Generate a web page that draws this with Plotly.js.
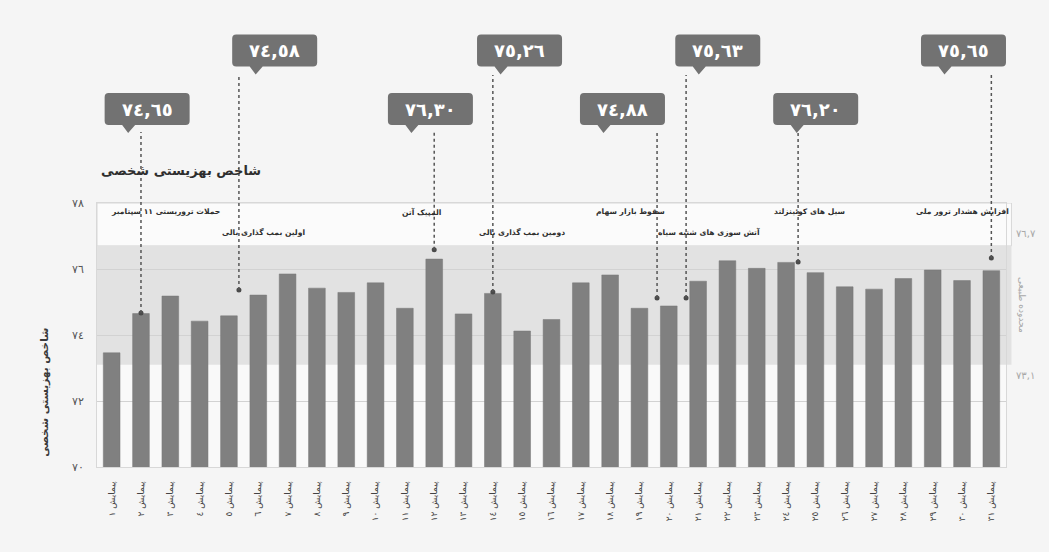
<!DOCTYPE html>
<html>
<head>
<meta charset="utf-8">
<script src="https://cdn.plot.ly/plotly-3.0.1.min.js"></script>
<style>
  html, body { margin: 0; padding: 0; background: #f5f5f5; }
  #chart { width: 1049px; height: 552px; }
</style>
</head>
<body>
<div id="chart"></div>
<script>
// ---------- data ----------
const surveyNumbers = [1,2,3,4,5,6,7,8,9,10,11,12,13,14,15,16,17,18,19,20,21,22,23,24,25,26,27,28,29,30,31];
const surveyLabels = [
  "پیمایش ١","پیمایش ٢","پیمایش ٣","پیمایش ٤","پیمایش ٥","پیمایش ٦","پیمایش ٧","پیمایش ٨",
  "پیمایش ٩","پیمایش ١٠","پیمایش ١١","پیمایش ١٢","پیمایش ١٣","پیمایش ١٤","پیمایش ١٥","پیمایش ١٦",
  "پیمایش ١٧","پیمایش ١٨","پیمایش ١٩","پیمایش ٢٠","پیمایش ٢١","پیمایش ٢٢","پیمایش ٢٣","پیمایش ٢٤",
  "پیمایش ٢٥","پیمایش ٢٦","پیمایش ٢٧","پیمایش ٢٨","پیمایش ٢٩","پیمایش ٣٠","پیمایش ٣١"
];
const indexValues = [73.46, 74.65, 75.18, 74.42, 74.58, 75.21, 75.85, 75.42, 75.29, 75.58,
                     74.81, 76.30, 74.64, 75.26, 74.12, 74.47, 75.58, 75.82, 74.81, 74.88,
                     75.63, 76.25, 76.02, 76.20, 75.89, 75.46, 75.39, 75.71, 75.97, 75.65, 75.95];
const yTickValues = [70, 72, 74, 76, 78];
const yTickLabels = ["٧٠", "٧٢", "٧٤", "٧٦", "٧٨"];
const normalRangeLow = 73.1;
const normalRangeHigh = 76.7;
const normalRangeLowLabel = "٧٣,١";
const normalRangeHighLabel = "٧٦,٧";
const normalRangeTitle = "محدوده طبیعی";
const calloutBars = [2, 5, 12, 14, 20, 21, 24, 31];
const calloutLabels = ["٧٤,٦٥", "٧٤,٥٨", "٧٦,٣٠", "٧٥,٢٦", "٧٤,٨٨", "٧٥,٦٣", "٧٦,٢٠", "٧٥,٦٥"];
const eventLabelsRow1 = ["حملات تروریستی ١١ سپتامبر", "المپیک آتن", "سقوط بازار سهام", "سیل های کوئینزلند", "افزایش هشدار ترور ملی"];
const eventLabelsRow2 = ["اولین بمب گذاری بالی", "دومین بمب گذاری بالی", "آتش سوزی های شنبه سیاه"];
const chartTitle = "شاخص بهزیستی شخصی";
const yAxisTitle = "شاخص بهزیستی شخصی";

// ---------- layout / style (positions) ----------
const FONT = "DejaVu Sans, Noto Sans, sans-serif";
const calloutStyle = {
  lineOffset: [0, 0.34, 0, 0, -0.4, -0.41, 0.41, 0],
  tipY:       [74.67, 75.36, 76.58, 75.30, 75.12, 75.12, 76.21, 76.33],
  boxX:       [2.21, 6.56, 11.87, 14.91, 18.42, 21.67, 25.01, 30.05],
  row:        [1, 0, 1, 0, 1, 0, 1, 0]
};
const rowBoxY = [1.578, 1.356];     // paper y of box centres (row 0 top, row 1 lower)
const rowLineTop = [1.485, 1.269];  // paper y where dotted line starts
const event1X = [0.1376, 0.3805, 0.6267, 0.8256, 1.0058];
const event2X = [0.2310, 0.5168, 0.7311];
const YMIN = 70, YMAX = 78;

const traces = [
  {
    type: "bar",
    x: surveyNumbers,
    y: indexValues,
    marker: { color: "#808080", line: { color: "#767676", width: 0.5 } },
    width: 0.57,
    hoverinfo: "skip"
  },
  {
    type: "scatter",
    mode: "markers",
    x: calloutBars.map((b, i) => b + calloutStyle.lineOffset[i]),
    y: calloutStyle.tipY,
    marker: { size: 5, color: "#4a4a4a" },
    cliponaxis: false,
    hoverinfo: "skip"
  }
];

const shapes = [
  { type: "rect", xref: "paper", yref: "y", x0: 0, x1: 1.006, y0: normalRangeHigh, y1: YMAX,
    fillcolor: "#fbfbfb", line: { color: "#d8d8d8", width: 1 }, layer: "below" },
  { type: "rect", xref: "paper", yref: "y", x0: 0, x1: 1.006, y0: normalRangeLow, y1: normalRangeHigh,
    fillcolor: "#e2e2e2", line: { width: 0 }, layer: "below" }
];

const boxPath = "M -38.5,16 L 38.5,16 Q 42.5,16 42.5,12 L 42.5,-12 Q 42.5,-16 38.5,-16 " +
                "L -12,-16 L -19,-24 L -25,-16 L -38.5,-16 Q -42.5,-16 -42.5,-12 L -42.5,12 Q -42.5,16 -38.5,16 Z";

const annotations = [];

calloutBars.forEach((b, i) => {
  const lx = b + calloutStyle.lineOffset[i];
  const r = calloutStyle.row[i];
  shapes.push({
    type: "line", xref: "x", yref: "paper",
    x0: lx, x1: lx,
    y0: (calloutStyle.tipY[i] - YMIN) / (YMAX - YMIN), y1: rowLineTop[r],
    line: { color: "#555555", width: 1.5, dash: "dot" }, layer: "above"
  });
  shapes.push({
    type: "path", xref: "x", yref: "paper",
    xsizemode: "pixel", ysizemode: "pixel",
    xanchor: calloutStyle.boxX[i], yanchor: rowBoxY[r],
    path: boxPath,
    fillcolor: "#727272", line: { width: 0 }, layer: "above"
  });
  annotations.push({
    xref: "x", yref: "paper", x: calloutStyle.boxX[i], y: rowBoxY[r],
    text: "<b>" + calloutLabels[i] + "</b>", showarrow: false,
    font: { family: FONT, size: 18, color: "#ffffff" },
    xanchor: "center", yanchor: "middle"
  });
});

eventLabelsRow1.forEach((t, i) => {
  annotations.push({
    xref: "paper", yref: "paper", x: event1X[i], y: 0.966, text: "<b>" + t + "</b>",
    showarrow: false, xanchor: "right", yanchor: "middle",
    font: { family: FONT, size: 7.6, color: "#2e2e2e" }
  });
});
eventLabelsRow2.forEach((t, i) => {
  annotations.push({
    xref: "paper", yref: "paper", x: event2X[i], y: 0.890, text: "<b>" + t + "</b>",
    showarrow: false, xanchor: "right", yanchor: "middle",
    font: { family: FONT, size: 7.6, color: "#2e2e2e" }
  });
});

annotations.push(
  { xref: "paper", yref: "paper", x: 0.1825, y: 1.125, text: "<b>" + chartTitle + "</b>",
    showarrow: false, xanchor: "right", yanchor: "middle",
    font: { family: FONT, size: 13, color: "#2e2e2e" } },
  { xref: "paper", yref: "paper", x: -0.0585, y: 0.284, text: "<b>" + yAxisTitle + "</b>",
    showarrow: false, textangle: -90, xanchor: "center", yanchor: "middle",
    font: { family: FONT, size: 10.5, color: "#3a3a3a" } },
  { xref: "paper", yref: "paper", x: 1.009, y: 0.8826, text: normalRangeHighLabel,
    showarrow: false, xanchor: "left", yanchor: "middle",
    font: { family: FONT, size: 10, color: "#a8a8a8" } },
  { xref: "paper", yref: "paper", x: 1.009, y: 0.348, text: normalRangeLowLabel,
    showarrow: false, xanchor: "left", yanchor: "middle",
    font: { family: FONT, size: 10, color: "#a8a8a8" } },
  { xref: "paper", yref: "paper", x: 1.0175, y: 0.614, text: normalRangeTitle,
    showarrow: false, textangle: 90, xanchor: "center", yanchor: "middle",
    font: { family: FONT, size: 9, color: "#a8a8a8" } }
);

const layout = {
  width: 1049, height: 552,
  margin: { l: 97, r: 43, t: 203, b: 85 },
  paper_bgcolor: "#f5f5f5",
  plot_bgcolor: "#f9f9f9",
  showlegend: false,
  font: { family: FONT },
  xaxis: {
    range: [0.5, 31.5],
    tickmode: "array", tickvals: surveyNumbers, ticktext: surveyLabels,
    tickangle: -90, ticks: "outside", ticklen: 10, tickcolor: "rgba(0,0,0,0)",
    tickfont: { family: FONT, size: 9, color: "#444444" },
    showgrid: false, zeroline: false,
    showline: true, linecolor: "#d8d8d8", linewidth: 1, mirror: true,
    fixedrange: true
  },
  yaxis: {
    range: [YMIN, YMAX],
    tickmode: "array", tickvals: yTickValues, ticktext: yTickLabels,
    ticks: "outside", ticklen: 10, tickcolor: "rgba(0,0,0,0)",
    tickfont: { family: FONT, size: 11, color: "#555555" },
    showgrid: true, gridcolor: "#d2d2d2", gridwidth: 1,
    zeroline: false,
    showline: true, linecolor: "#d8d8d8", linewidth: 1, mirror: true,
    fixedrange: true
  },
  shapes: shapes,
  annotations: annotations
};

Plotly.newPlot("chart", traces, layout, { displayModeBar: false, staticPlot: true });
</script>
</body>
</html>
